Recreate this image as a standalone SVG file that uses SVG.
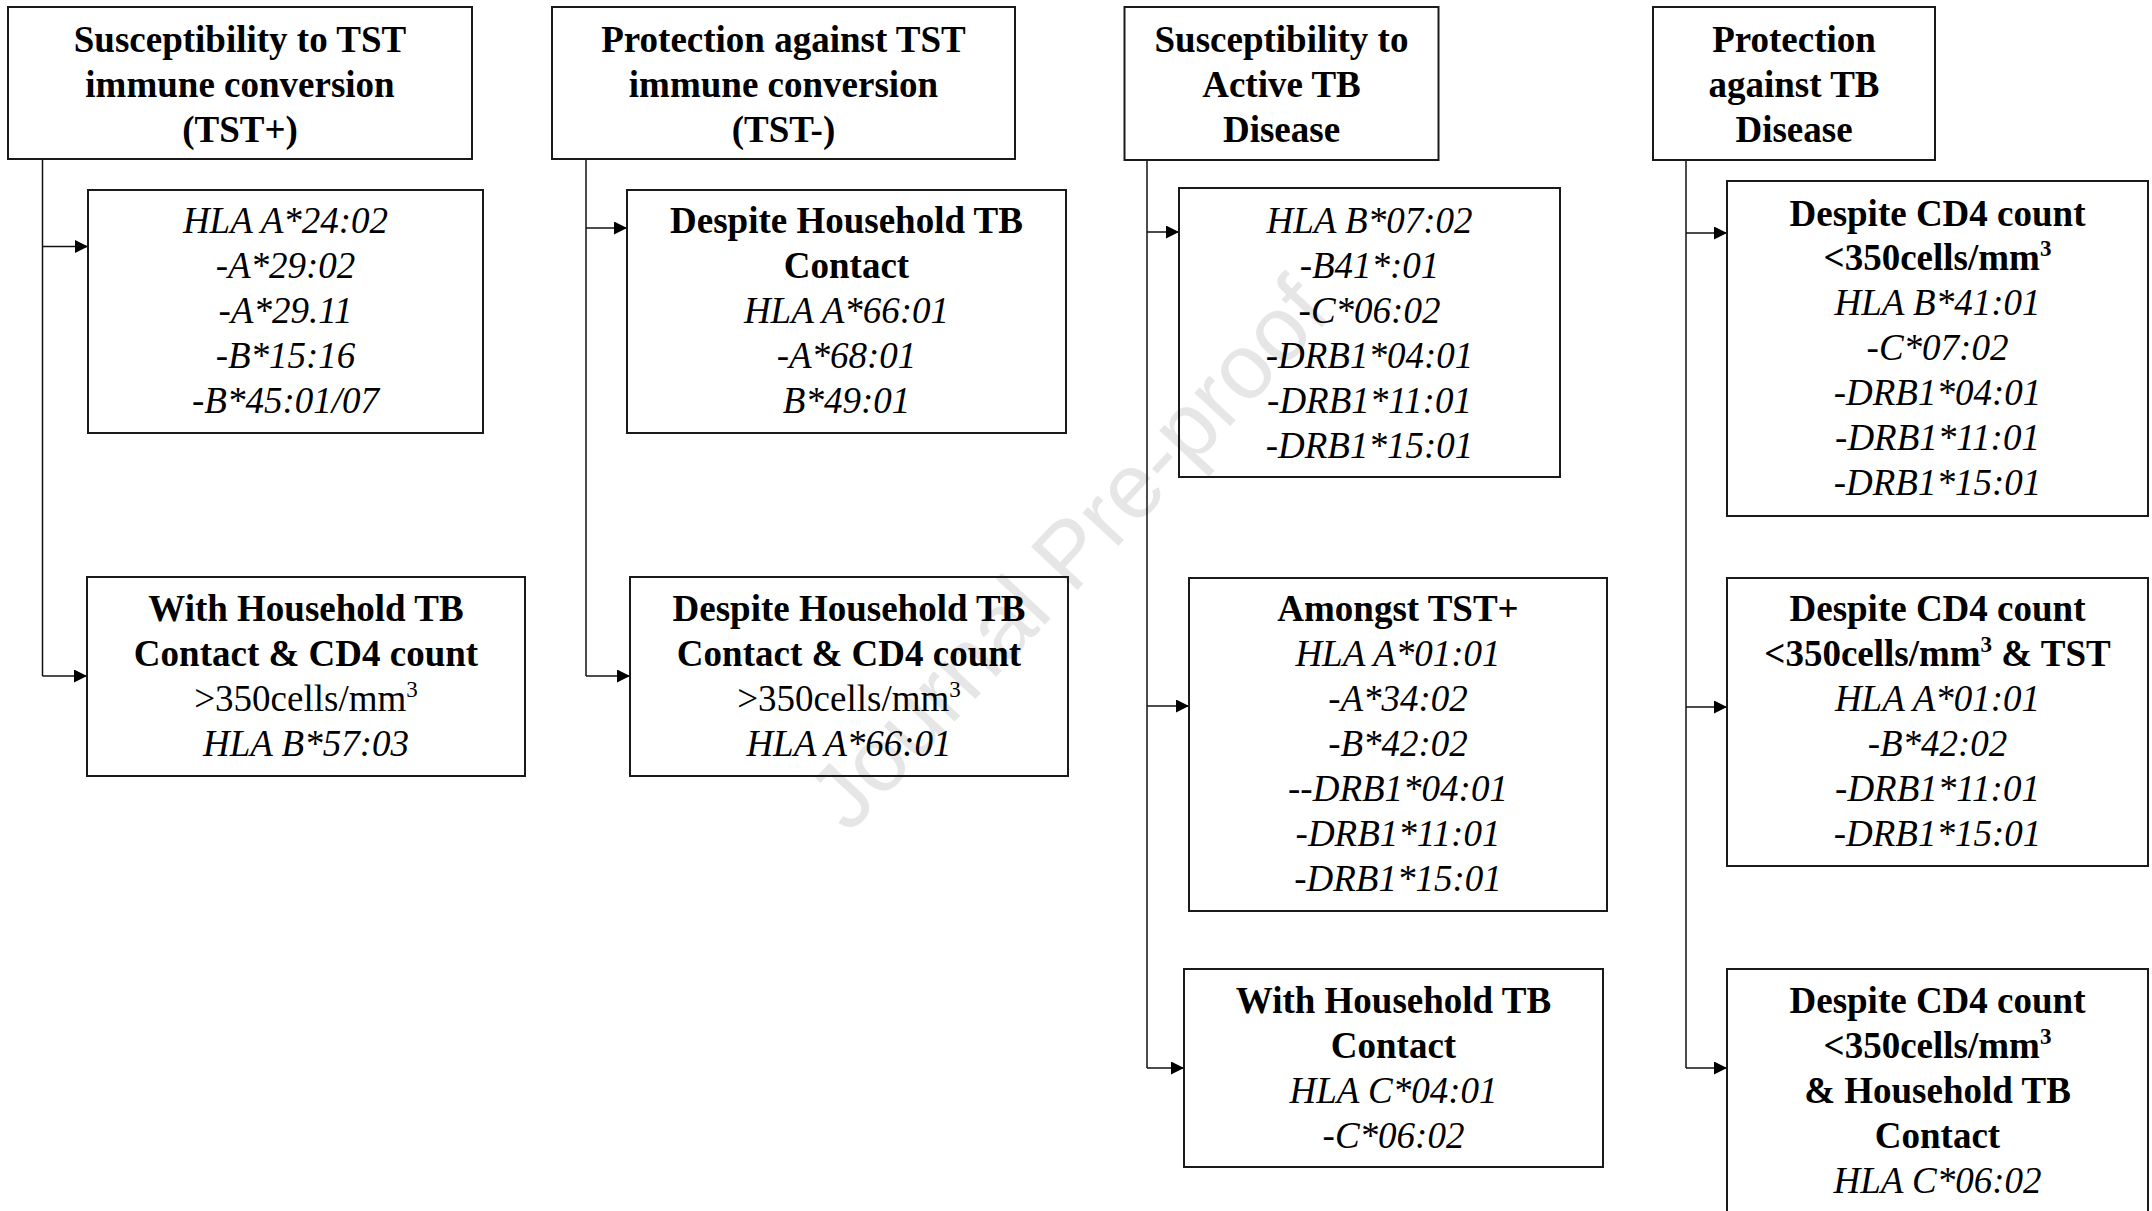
<svg xmlns="http://www.w3.org/2000/svg" width="2152" height="1211" viewBox="0 0 2152 1211">
<defs>
<style>
text{font-family:"Liberation Serif","Times New Roman",serif;font-size:37px;fill:#000;text-anchor:middle}
.b{font-weight:bold}
.i{font-style:italic}
.box{fill:none;stroke:#1a1a1a;stroke-width:2}
.wire{fill:none;stroke:#111;stroke-width:1.5}
.wm{font-family:"Liberation Sans",Arial,sans-serif;font-size:92px;fill:#e6e6e6;font-weight:normal;font-style:normal}
.sup{font-size:23px}
</style>
<marker id="ah" markerWidth="13" markerHeight="13" refX="13" refY="6.5" orient="auto" markerUnits="userSpaceOnUse">
<path d="M0,0 L13,6.5 L0,13 z" fill="#000"/>
</marker>
</defs>
<rect width="2152" height="1211" fill="#fff"/>
<text class="wm" x="1068" y="585" transform="rotate(-47 1068 553)">Journal Pre-proof</text>

<g id="connectors">
<path class="wire" d="M42.5,159 V676"/>
<path class="wire" d="M42.5,246.5 H88" marker-end="url(#ah)"/>
<path class="wire" d="M42.5,676 H87" marker-end="url(#ah)"/>
<path class="wire" d="M586,159 V676"/>
<path class="wire" d="M586,228 H627" marker-end="url(#ah)"/>
<path class="wire" d="M586,676 H630" marker-end="url(#ah)"/>
<path class="wire" d="M1147,160 V1068"/>
<path class="wire" d="M1147,232 H1179" marker-end="url(#ah)"/>
<path class="wire" d="M1147,706 H1189" marker-end="url(#ah)"/>
<path class="wire" d="M1147,1068 H1184" marker-end="url(#ah)"/>
<path class="wire" d="M1686,160 V1068"/>
<path class="wire" d="M1686,233 H1727" marker-end="url(#ah)"/>
<path class="wire" d="M1686,707 H1727" marker-end="url(#ah)"/>
<path class="wire" d="M1686,1068 H1727" marker-end="url(#ah)"/>
</g>

<g id="h1">
<rect class="box" x="8" y="7" width="464" height="152"/>
<text class="b" x="240" y="52">Susceptibility to TST</text>
<text class="b" x="240" y="97">immune conversion</text>
<text class="b" x="240" y="142">(TST+)</text>
</g>
<g id="h2">
<rect class="box" x="552" y="7" width="463" height="152"/>
<text class="b" x="783.5" y="52">Protection against TST</text>
<text class="b" x="783.5" y="97">immune conversion</text>
<text class="b" x="783.5" y="142">(TST-)</text>
</g>
<g id="h3">
<rect class="box" x="1124.5" y="7" width="314" height="153"/>
<text class="b" x="1281.5" y="52">Susceptibility to</text>
<text class="b" x="1281.5" y="97">Active TB</text>
<text class="b" x="1281.5" y="142">Disease</text>
</g>
<g id="h4">
<rect class="box" x="1653" y="7" width="282" height="153"/>
<text class="b" x="1794" y="52">Protection</text>
<text class="b" x="1794" y="97">against TB</text>
<text class="b" x="1794" y="142">Disease</text>
</g>

<g id="a1">
<rect class="box" x="88" y="190" width="395" height="243"/>
<text class="i" x="285.5" y="233">HLA A*24:02</text>
<text class="i" x="285.5" y="278">-A*29:02</text>
<text class="i" x="285.5" y="323">-A*29.11</text>
<text class="i" x="285.5" y="368">-B*15:16</text>
<text class="i" x="285.5" y="413">-B*45:01/07</text>
</g>
<g id="a2">
<rect class="box" x="87" y="577" width="438" height="199"/>
<text class="b" x="306" y="621">With Household TB</text>
<text class="b" x="306" y="666">Contact &amp; CD4 count</text>
<text x="306" y="711">&gt;350cells/mm<tspan class="sup" dy="-14">3</tspan></text>
<text class="i" x="306" y="756">HLA B*57:03</text>
</g>

<g id="b1">
<rect class="box" x="627" y="190" width="439" height="243"/>
<text class="b" x="846.5" y="233">Despite Household TB</text>
<text class="b" x="846.5" y="278">Contact</text>
<text class="i" x="846.5" y="323">HLA A*66:01</text>
<text class="i" x="846.5" y="368">-A*68:01</text>
<text class="i" x="846.5" y="413">B*49:01</text>
</g>
<g id="b2">
<rect class="box" x="630" y="577" width="438" height="199"/>
<text class="b" x="849" y="621">Despite Household TB</text>
<text class="b" x="849" y="666">Contact &amp; CD4 count</text>
<text x="849" y="711">&gt;350cells/mm<tspan class="sup" dy="-14">3</tspan></text>
<text class="i" x="849" y="756">HLA A*66:01</text>
</g>

<g id="c1">
<rect class="box" x="1179" y="188" width="381" height="289"/>
<text class="i" x="1369.5" y="233">HLA B*07:02</text>
<text class="i" x="1369.5" y="278">-B41*:01</text>
<text class="i" x="1369.5" y="323">-C*06:02</text>
<text class="i" x="1369.5" y="368">-DRB1*04:01</text>
<text class="i" x="1369.5" y="413">-DRB1*11:01</text>
<text class="i" x="1369.5" y="458">-DRB1*15:01</text>
</g>
<g id="c2">
<rect class="box" x="1189" y="578" width="418" height="333"/>
<text class="b" x="1398" y="621">Amongst TST+</text>
<text class="i" x="1398" y="666">HLA A*01:01</text>
<text class="i" x="1398" y="711">-A*34:02</text>
<text class="i" x="1398" y="756">-B*42:02</text>
<text class="i" x="1398" y="801">--DRB1*04:01</text>
<text class="i" x="1398" y="846">-DRB1*11:01</text>
<text class="i" x="1398" y="891">-DRB1*15:01</text>
</g>
<g id="c3">
<rect class="box" x="1184" y="969" width="419" height="198"/>
<text class="b" x="1393.5" y="1013">With Household TB</text>
<text class="b" x="1393.5" y="1058">Contact</text>
<text class="i" x="1393.5" y="1103">HLA C*04:01</text>
<text class="i" x="1393.5" y="1148">-C*06:02</text>
</g>

<g id="d1">
<rect class="box" x="1727" y="181" width="421" height="335"/>
<text class="b" x="1937.5" y="226">Despite CD4 count</text>
<text class="b" x="1937.5" y="270">&lt;350cells/mm<tspan class="sup" dy="-14">3</tspan></text>
<text class="i" x="1937.5" y="315">HLA B*41:01</text>
<text class="i" x="1937.5" y="360">-C*07:02</text>
<text class="i" x="1937.5" y="405">-DRB1*04:01</text>
<text class="i" x="1937.5" y="450">-DRB1*11:01</text>
<text class="i" x="1937.5" y="495">-DRB1*15:01</text>
</g>
<g id="d2">
<rect class="box" x="1727" y="578" width="421" height="288"/>
<text class="b" x="1937.5" y="621">Despite CD4 count</text>
<text class="b" x="1937.5" y="666">&lt;350cells/mm<tspan class="sup" dy="-14">3</tspan><tspan dy="14"> &amp; TST</tspan></text>
<text class="i" x="1937.5" y="711">HLA A*01:01</text>
<text class="i" x="1937.5" y="756">-B*42:02</text>
<text class="i" x="1937.5" y="801">-DRB1*11:01</text>
<text class="i" x="1937.5" y="846">-DRB1*15:01</text>
</g>
<g id="d3">
<rect class="box" x="1727" y="969" width="421" height="300"/>
<text class="b" x="1937.5" y="1013">Despite CD4 count</text>
<text class="b" x="1937.5" y="1058">&lt;350cells/mm<tspan class="sup" dy="-14">3</tspan></text>
<text class="b" x="1937.5" y="1103">&amp; Household TB</text>
<text class="b" x="1937.5" y="1148">Contact</text>
<text class="i" x="1937.5" y="1193">HLA C*06:02</text>
</g>
</svg>
